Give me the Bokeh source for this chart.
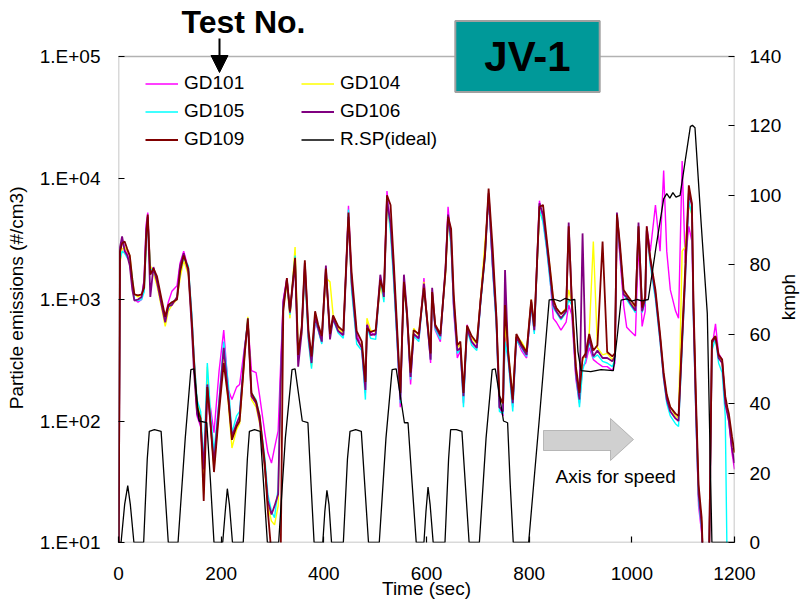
import math
from bokeh.plotting import figure
from bokeh.models import (Range1d, LinearAxis, LinearScale, FixedTicker, Legend, LegendItem, Label,
                          Arrow, NormalHead, PolyAnnotation, BoxAnnotation, CustomJSTickFormatter)
from bokeh.embed import file_html
from bokeh.resources import INLINE

# ---------------- data ----------------
t_sec = [0, 3, 7, 12, 17, 22, 27, 31, 38, 45,
         50, 54, 57, 62, 68, 75, 84, 91, 97, 104,
         114, 120, 127, 136, 143, 147, 153, 160, 166, 173,
         179, 186, 196, 205, 214, 221, 230, 236, 246, 252,
         259, 268, 275, 285, 291, 298, 304, 311, 316, 321,
         328, 334, 344, 350, 357, 363, 370, 376, 383, 389,
         396, 404, 412, 418, 428, 438, 448, 454, 464, 474,
         481, 484, 491, 501, 510, 517, 523, 530, 536, 543,
         549, 556, 562, 569, 575, 585, 595, 601, 608, 611,
         617, 627, 637, 642, 648, 653, 660, 666, 672, 679,
         688, 698, 705, 714, 721, 729, 736, 742, 749, 753,
         759, 768, 775, 785, 795, 804, 810, 820, 827, 834,
         840, 847, 853, 862, 872, 877, 883, 891, 898, 904,
         910, 917, 925, 933, 943, 952, 962, 967, 971, 977,
         984, 990, 997, 1007, 1013, 1020, 1026, 1029, 1036, 1046,
         1055, 1062, 1068, 1075, 1085, 1091, 1098, 1104, 1111, 1117,
         1120, 1125, 1130, 1136, 1140, 1150, 1156, 1163, 1169, 1176,
         1182, 1186, 1189, 1195, 1200]

gd101 = [5, 2200, 3200, 2600, 2400, 2000, 1300, 1000, 950, 1000,
         1500, 4200, 5200, 1700, 1800, 1350, 900, 720, 950, 1170,
         1300, 2000, 2500, 1800, 700, 330, 110, 90, 30, 150,
         130, 80, 260, 560, 180, 150, 190, 200, 420, 650,
         260, 250, 160, 80, 55, 45, 60, 83, 300, 1000,
         1500, 800, 2100, 320, 600, 1900, 520, 330, 650, 560,
         440, 1700, 520, 700, 540, 500, 5900, 1500, 520, 400,
         170, 650, 540, 500, 1400, 1100, 7800, 4000, 1600, 450,
         130, 1500, 700, 200, 520, 470, 1500, 700, 300, 1100,
         560, 450, 1800, 5800, 3000, 800, 330, 380, 140, 620,
         440, 400, 900, 2600, 7000, 1800, 650, 130, 110, 500,
         340, 130, 480, 380, 330, 900, 540, 6500, 4500, 2700,
         1600, 700, 650, 560, 650, 900, 750, 220, 140, 280,
         300, 400, 320, 300, 280, 280, 260, 300, 4500, 2200,
         900, 590, 550, 500, 3000, 600, 800, 4000, 2500, 6000,
         2500, 11500, 2500, 1200, 810, 700, 13800, 2000, 4000, 3000,
         800, 110, 20, 12, 5, 5, 400, 630, 360, 320,
         150, 120, 100, 55, 40]

gd104 = [5, 2000, 2600, 2700, 2500, 2300, 1500, 1100, 1050, 1100,
         1200, 3000, 4300, 1900, 1650, 1300, 850, 600, 800, 900,
         1000, 1500, 2100, 1600, 600, 280, 140, 110, 25, 280,
         100, 40, 130, 330, 140, 60, 85, 95, 350, 720,
         150, 130, 95, 40, 20, 15, 14, 20, 180, 850,
         1350, 700, 2700, 400, 520, 1800, 480, 280, 700, 600,
         470, 1500, 1400, 750, 580, 520, 4500, 1300, 470, 420,
         200, 700, 560, 540, 1300, 1000, 6000, 3800, 1500, 500,
         170, 1300, 780, 260, 580, 500, 1400, 720, 350, 1200,
         620, 520, 1600, 4600, 2800, 1000, 400, 430, 170, 600,
         480, 430, 1000, 3000, 6500, 2200, 700, 150, 140, 600,
         380, 160, 500, 450, 380, 1000, 600, 5000, 4800, 3000,
         1900, 1000, 850, 760, 850, 1200, 950, 280, 170, 320,
         350, 520, 3000, 400, 350, 360, 320, 350, 4800, 2600,
         1150, 1050, 950, 850, 3800, 830, 1000, 3500, 2000, 1100,
         500, 240, 160, 130, 110, 105, 2500, 2700, 6000, 5000,
         900, 130, 25, 15, 5, 5, 420, 500, 340, 310,
         150, 125, 110, 70, 55]

gd105 = [5, 2100, 2500, 2400, 2200, 2100, 1500, 1000, 980, 1000,
         1150, 2800, 4600, 1800, 1700, 1500, 950, 700, 850, 950,
         1000, 1700, 2200, 1900, 750, 350, 150, 120, 45, 300,
         120, 55, 150, 450, 200, 80, 110, 120, 400, 700,
         170, 150, 110, 50, 25, 18, 16, 28, 220, 900,
         1400, 750, 2300, 320, 560, 1700, 450, 270, 680, 560,
         430, 1800, 500, 680, 530, 480, 5500, 1200, 430, 380,
         150, 600, 480, 470, 1500, 950, 6800, 3500, 1400, 420,
         140, 1350, 720, 220, 500, 450, 1300, 650, 320, 1100,
         570, 470, 1700, 4800, 2700, 850, 360, 390, 130, 560,
         420, 380, 880, 2200, 7200, 1700, 600, 120, 115, 450,
         320, 120, 460, 400, 340, 880, 520, 5500, 4300, 2600,
         1500, 850, 780, 680, 780, 1000, 900, 240, 130, 260,
         320, 450, 330, 350, 310, 300, 280, 320, 5000, 2400,
         1100, 1000, 900, 780, 4000, 780, 950, 3800, 1900, 1000,
         450, 220, 140, 110, 95, 90, 400, 1500, 6500, 5000,
         700, 100, 22, 13, 5, 5, 380, 480, 300, 250,
         110, 5, 5, 5, 5]

gd106 = [5, 2700, 3300, 2500, 2300, 1900, 1200, 980, 1000, 1050,
         1400, 3800, 4800, 1050, 1850, 1400, 900, 650, 880, 900,
         1050, 1900, 2400, 1700, 560, 260, 115, 95, 40, 200,
         95, 45, 140, 400, 160, 75, 95, 110, 390, 650,
         160, 140, 100, 42, 22, 17, 20, 25, 210, 950,
         1450, 780, 2000, 280, 540, 2000, 500, 300, 720, 580,
         450, 1900, 470, 700, 550, 510, 4800, 1400, 480, 400,
         180, 620, 510, 520, 1600, 1050, 6500, 4200, 1700, 480,
         150, 1600, 800, 230, 520, 480, 1350, 680, 320, 1250,
         600, 500, 1800, 5000, 3100, 930, 380, 400, 160, 580,
         450, 400, 950, 2300, 7500, 1900, 700, 130, 120, 1750,
         350, 140, 490, 410, 350, 950, 560, 6200, 5000, 2900,
         1700, 900, 800, 700, 800, 4300, 950, 250, 150, 3500,
         330, 480, 340, 380, 330, 330, 310, 340, 5200, 2500,
         1100, 1050, 930, 810, 4300, 800, 1000, 3700, 2100, 1100,
         480, 230, 150, 120, 105, 100, 450, 1500, 7500, 6000,
         800, 120, 25, 14, 5, 5, 440, 490, 330, 300,
         140, 115, 100, 60, 45]

gd109 = [5, 2500, 2900, 3000, 2600, 2300, 1450, 1100, 1080, 1100,
         1250, 3300, 5000, 1600, 1800, 1550, 1000, 720, 900, 950,
         1000, 1700, 2300, 1800, 650, 320, 130, 105, 22, 190,
         100, 38, 120, 300, 150, 70, 90, 100, 360, 700,
         170, 145, 110, 45, 18, 8, 7, 7, 8, 800,
         1500, 800, 2200, 350, 600, 2100, 560, 340, 800, 620,
         500, 1800, 520, 740, 600, 550, 5200, 1700, 550, 450,
         210, 580, 540, 560, 1450, 1150, 7200, 6000, 2100, 560,
         170, 1400, 750, 250, 560, 520, 1250, 700, 360, 1150,
         620, 520, 1700, 4800, 3800, 1100, 420, 450, 170, 610,
         500, 440, 950, 2400, 8200, 2600, 750, 160, 140, 900,
         380, 150, 520, 430, 370, 1000, 600, 5800, 6000, 3200,
         1900, 1000, 850, 760, 830, 4000, 1000, 280, 170, 330,
         360, 520, 380, 420, 3000, 370, 340, 360, 5000, 2800,
         1200, 1100, 1000, 880, 4000, 860, 1050, 4000, 2200, 1200,
         520, 250, 165, 130, 115, 110, 500, 1800, 8700, 6200,
         1000, 150, 30, 16, 5, 5, 460, 500, 350, 320,
         160, 130, 115, 75, 55]

speed_t = [0, 5, 12, 18, 23, 30,
           49, 56, 60, 70, 83, 90, 97,
           116, 130, 141, 147, 157, 172, 179, 186,
           203, 208, 212, 216, 222,
           243, 251, 255, 265, 276, 283, 290,
           312, 325, 338, 344, 358, 369, 375, 381,
           398, 402, 406, 410, 415,
           438, 446, 451, 462, 473, 480, 487,
           508, 521, 533, 541, 557, 564, 572, 580,
           595, 599, 603, 607, 613,
           636, 643, 647, 658, 669, 676, 683,
           703, 716, 728, 734, 750, 758, 763, 769,
           799, 820, 839, 850, 860, 870, 880, 889,
           895, 901, 920, 940, 964,
           972, 979, 990, 1000, 1010, 1020, 1032,
           1047, 1062, 1068, 1074, 1080, 1086, 1094,
           1104, 1114, 1118, 1123, 1135, 1147, 1156, 1200]
speed_kmh = [0, 0, 11, 16.4, 11, 0,
             0, 24, 32, 32.5, 32, 16, 0,
             0, 30, 49.8, 50, 35, 34.5, 18, 0,
             0, 9, 15.5, 11, 0,
             0, 24, 32, 32.5, 32, 16, 0,
             0, 30, 49.8, 50, 35, 34.5, 17, 0,
             0, 9, 15, 11, 0,
             0, 24, 32, 32.5, 32, 16, 0,
             0, 30, 49.8, 50, 34.5, 34.5, 17, 0,
             0, 9, 16, 11, 0,
             0, 24, 32.5, 32.5, 32, 16, 0,
             0, 30, 49.8, 50, 35, 34.5, 17, 0,
             0, 36, 69.9, 70, 69.5, 70.3, 69.8, 70,
             55, 49.5, 49.2, 49.8, 49.5,
             60, 69.8, 70.2, 69.5, 70, 69.6, 70,
             85, 99, 100.5, 99.2, 100.8, 99.5, 100,
             110, 119.8, 120.2, 119.5, 92, 66, 0, 0]

series_names = ["GD101", "GD104", "GD105", "GD106", "GD109"]
series_values = [gd101, gd104, gd105, gd106, gd109]
x_ticks = [0, 200, 400, 600, 800, 1000, 1200]
y_ticks = [10, 100, 1000, 10000, 100000]
speed_ticks = [0, 20, 40, 60, 80, 100, 120, 140]

# ---------------- styling / layout ----------------
FONT = "Liberation Sans"
colors = ["#FF00FF", "#FFFF00", "#00FFFF", "#800080", "#800000"]
widths = [1.4, 1.4, 1.4, 1.8, 1.8]

W, H = 806, 605
FL, FR, FT, FB = 118, 734, 56, 542   # visible plot box (pixels)
PX_PER_DECADE = (FB - FT) / 4.0
# the drawing frame reaches the top of the page so the titles above the box are inside it
Y_TOP = 10 ** (5 + FT / PX_PER_DECADE)
KMPH_TOP = 140.0 * FB / (FB - FT)


def dx(px):
    return (px - FL) / (FR - FL) * 1200.0


def dy(py):
    return 10 ** (5 - (py - FT) / PX_PER_DECADE)


p = figure(frame_width=FR - FL, frame_height=FB, y_axis_type="log",
           x_range=Range1d(0, 1200), y_range=Range1d(10, Y_TOP),
           output_backend="svg", toolbar_location=None, title_location=None,
           min_border_left=FL, min_border_right=W - FR,
           min_border_top=0, min_border_bottom=H - FB)
p.background_fill_color = "white"
p.border_fill_color = "white"
p.outline_line_color = None
p.xgrid.visible = False
p.ygrid.visible = False

p.extra_y_ranges = {"kmph": Range1d(0, KMPH_TOP)}
p.extra_y_scales = {"kmph": LinearScale()}
raxis = LinearAxis(y_range_name="kmph", ticker=FixedTicker(ticks=speed_ticks, minor_ticks=[]))
p.add_layout(raxis, "right")
# outer right axis carrying only the rotated "kmph" title (reads bottom-to-top)
kaxis = LinearAxis(y_range_name="kmph", ticker=FixedTicker(ticks=[64], minor_ticks=[]),
                   formatter=CustomJSTickFormatter(code='return "kmph";'))
p.add_layout(kaxis, "right")

p.xaxis.ticker = FixedTicker(ticks=x_ticks, minor_ticks=[])
p.xaxis.axis_label = "Time (sec)"
p.yaxis[0].ticker = FixedTicker(ticks=y_ticks, minor_ticks=[])
p.yaxis[0].formatter = CustomJSTickFormatter(
    code='return "1.E+" + String(Math.round(Math.log10(tick))).padStart(2, "0");')
p.yaxis[0].axis_label = "Particle emissions (#/cm3)" + "\u00a0" * 10

for ax in [p.xaxis[0], p.yaxis[0], raxis, kaxis]:
    ax.major_tick_in = 6
    ax.major_tick_out = 0
    ax.minor_tick_in = 0
    ax.minor_tick_out = 0
    ax.axis_line_color = None
    ax.major_tick_line_color = "black"
    ax.major_tick_line_width = 1.2
    ax.major_label_text_font = FONT
    ax.major_label_text_font_size = "19px"
    ax.major_label_text_color = "black"
    ax.axis_label_text_font = FONT
    ax.axis_label_text_font_size = "19px"
    ax.axis_label_text_font_style = "normal"
    ax.axis_label_text_color = "black"

kaxis.major_tick_in = 0
kaxis.major_tick_line_color = None
kaxis.major_label_orientation = math.pi / 2
kaxis.major_label_standoff = 4

p.xaxis[0].major_label_standoff = 24
p.xaxis[0].axis_label_standoff = -5
p.yaxis[0].major_label_standoff = 18
p.yaxis[0].axis_label_standoff = 10
raxis.major_label_standoff = 15

# plot box
p.add_layout(BoxAnnotation(left=0, right=1200, bottom=10, top=100000,
                           fill_alpha=0, fill_color=None,
                           line_color="black", line_width=1.5))

# ---------------- glyphs ----------------
renderers = []
for name, vals, col, w in zip(series_names, series_values, colors, widths):
    r = p.line(t_sec, vals, line_color=col, line_width=w)
    renderers.append(r)
r_speed = p.line(speed_t, speed_kmh, line_color="black", line_width=1.3, y_range_name="kmph")

# ---------------- legends (two columns) ----------------
leg_common = dict(border_line_color=None, background_fill_alpha=0, padding=0, spacing=3,
                  glyph_width=33, glyph_height=25, label_height=25, label_standoff=6,
                  label_text_font=FONT, label_text_font_size="19px", label_text_color="black",
                  margin=0, orientation="vertical")
leg_bottom = FB - (70.5 + 3 * 25 + 2 * 3)
leg1 = Legend(items=[LegendItem(label="GD101", renderers=[renderers[0]]),
                     LegendItem(label="GD105", renderers=[renderers[2]]),
                     LegendItem(label="GD109", renderers=[renderers[4]])],
              location=(145 - FL, leg_bottom), **leg_common)
leg2 = Legend(items=[LegendItem(label="GD104", renderers=[renderers[1]]),
                     LegendItem(label="GD106", renderers=[renderers[3]]),
                     LegendItem(label="R.SP(ideal)", renderers=[r_speed])],
              location=(301 - FL, leg_bottom), **leg_common)
p.add_layout(leg1)
p.add_layout(leg2)

# ---------------- annotations ----------------
p.add_layout(Label(x=dx(243), y=dy(21), text="Test No.", text_font=FONT,
                   text_font_size="32px", text_font_style="bold",
                   text_align="center", text_baseline="middle", text_color="black"))
p.add_layout(Arrow(end=NormalHead(size=17, fill_color="black", line_color="black"),
                   x_start=dx(219), y_start=dy(38), x_end=dx(219), y_end=dy(72),
                   line_color="black", line_width=2))

p.add_layout(Label(x=dx(527), y=dy(56), text="JV-1", text_font=FONT,
                   text_font_size="42px", text_font_style="bold",
                   text_align="center", text_baseline="middle", text_color="black",
                   background_fill_color="#009999", border_line_color="#a0a0a0",
                   border_line_width=2,
                   padding=dict(left=29, right=29, top=12, bottom=12)))

arrow_px = [543, 610, 610, 633, 610, 610, 543]
arrow_py = [430, 430, 418, 439, 460, 450, 450]
p.add_layout(PolyAnnotation(xs=[dx(v) for v in arrow_px], ys=[dy(v) for v in arrow_py],
                            fill_color="#D0D0D0", fill_alpha=1.0,
                            line_color="#444444", line_width=1))
p.add_layout(Label(x=dx(555), y=dy(476), text="Axis for speed", text_font=FONT,
                   text_font_size="19px", text_align="left", text_baseline="middle",
                   text_color="black"))

open("out.html", "w").write(file_html(p, INLINE))
